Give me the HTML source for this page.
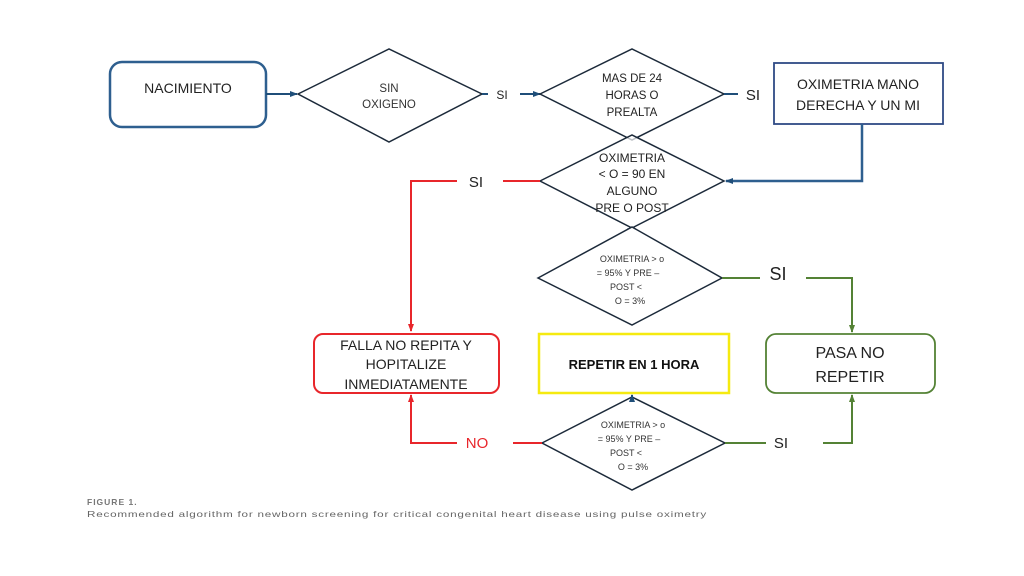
<!DOCTYPE html>
<html><head><meta charset="utf-8"><style>
html,body{margin:0;padding:0;background:#fff;}
svg{display:block;font-family:"Liberation Sans",sans-serif;}
</style></head><body>
<svg width="1024" height="576" viewBox="0 0 1024 576" xmlns="http://www.w3.org/2000/svg">
<defs>
<marker id="ab" markerWidth="8" markerHeight="8" refX="7" refY="4" orient="auto" markerUnits="userSpaceOnUse"><path d="M0,1 L8,4 L0,7 Z" fill="#1f4e79"/></marker>
<marker id="ar" markerWidth="8" markerHeight="8" refX="7" refY="4" orient="auto" markerUnits="userSpaceOnUse"><path d="M0,1 L8,4 L0,7 Z" fill="#e8262b"/></marker>
<marker id="ag" markerWidth="8" markerHeight="8" refX="7" refY="4" orient="auto" markerUnits="userSpaceOnUse"><path d="M0,1 L8,4 L0,7 Z" fill="#548235"/></marker>
</defs>
<rect width="1024" height="576" fill="#fff"/>

<!-- NACIMIENTO -->
<rect x="110" y="62" width="156" height="65" rx="12" fill="#fff" stroke="#2e5f8f" stroke-width="2.5"/>
<text x="188" y="93" font-size="14" text-anchor="middle" fill="#222">NACIMIENTO</text>
<line x1="266" y1="94" x2="297" y2="94" stroke="#1f4e79" stroke-width="2" marker-end="url(#ab)"/>

<!-- D1 -->
<polygon points="298,94 389,49 482,94 389,142" fill="#fff" stroke="#1c2a3a" stroke-width="1.5"/>
<text x="389" y="92" font-size="11.5" text-anchor="middle" fill="#333">SIN</text>
<text x="389" y="108" font-size="11.5" text-anchor="middle" fill="#333">OXIGENO</text>
<line x1="482" y1="94" x2="488" y2="94" stroke="#1f4e79" stroke-width="2"/>
<text x="502" y="99" font-size="12" text-anchor="middle" fill="#222">SI</text>
<line x1="520" y1="94" x2="540" y2="94" stroke="#1f4e79" stroke-width="2" marker-end="url(#ab)"/>

<!-- D2 -->
<polygon points="540,94 632,49 724,94 632,140" fill="#fff" stroke="#1c2a3a" stroke-width="1.5"/>
<text x="632" y="82" font-size="11.5" text-anchor="middle" fill="#222">MAS DE 24</text>
<text x="632" y="99" font-size="11.5" text-anchor="middle" fill="#222">HORAS O</text>
<text x="632" y="116" font-size="11.5" text-anchor="middle" fill="#222">PREALTA</text>
<line x1="724" y1="94" x2="738" y2="94" stroke="#1f4e79" stroke-width="2"/>
<text x="753" y="100" font-size="15" text-anchor="middle" fill="#222">SI</text>

<!-- Box oximetria mano -->
<rect x="774" y="63" width="169" height="61" fill="#fff" stroke="#2f4a85" stroke-width="1.8"/>
<text x="858" y="89" font-size="14" text-anchor="middle" fill="#222">OXIMETRIA MANO</text>
<text x="858" y="110" font-size="14" text-anchor="middle" fill="#222">DERECHA Y UN MI</text>
<polyline points="862,124 862,181 726,181" fill="none" stroke="#2e5f8f" stroke-width="2.5" marker-end="url(#ab)"/>

<!-- D3 -->
<polygon points="540,181 632,135 724,181 632,228" fill="#fff" fill-opacity="0.7" stroke="#1c2a3a" stroke-width="1.5"/>
<text x="632" y="162" font-size="12" text-anchor="middle" fill="#222">OXIMETRIA</text>
<text x="632" y="178" font-size="12" text-anchor="middle" fill="#222">&lt; O = 90 EN</text>
<text x="632" y="195" font-size="12" text-anchor="middle" fill="#222">ALGUNO</text>
<text x="632" y="212" font-size="12" text-anchor="middle" fill="#222">PRE O POST</text>
<text x="632" y="233" font-size="7" text-anchor="middle" fill="#8aa0c0">NO</text>

<!-- red SI -->
<line x1="503" y1="181" x2="540" y2="181" stroke="#e8262b" stroke-width="2"/>
<text x="476" y="187" font-size="15" text-anchor="middle" fill="#222">SI</text>
<polyline points="457,181 411,181 411,331" fill="none" stroke="#e8262b" stroke-width="2" marker-end="url(#ar)"/>

<!-- D4 -->
<polygon points="538,278 632,227 722,278 632,325" fill="#fff" stroke="#1c2a3a" stroke-width="1.5"/>
<text x="632" y="262" font-size="9" text-anchor="middle" fill="#333">OXIMETRIA &gt; o</text>
<text x="628" y="276" font-size="9" text-anchor="middle" fill="#333">= 95% Y PRE –</text>
<text x="626" y="290" font-size="9" text-anchor="middle" fill="#333">POST &lt;</text>
<text x="630" y="304" font-size="9" text-anchor="middle" fill="#333">O = 3%</text>
<line x1="722" y1="278" x2="760" y2="278" stroke="#548235" stroke-width="2"/>
<text x="778" y="280" font-size="18" text-anchor="middle" fill="#222">SI</text>
<polyline points="806,278 852,278 852,332" fill="none" stroke="#548235" stroke-width="2" marker-end="url(#ag)"/>

<!-- Red box -->
<rect x="314" y="334" width="185" height="59" rx="9" fill="#fff" stroke="#e8262b" stroke-width="2"/>
<text x="406" y="350" font-size="14" text-anchor="middle" fill="#222">FALLA NO REPITA Y</text>
<text x="406" y="369" font-size="14" text-anchor="middle" fill="#222">HOPITALIZE</text>
<text x="406" y="389" font-size="14" text-anchor="middle" fill="#222">INMEDIATAMENTE</text>

<!-- Yellow box -->
<rect x="539" y="334" width="190" height="59" fill="#fff" stroke="#f5ea10" stroke-width="2.5"/>
<text x="634" y="369" font-size="13" font-weight="bold" text-anchor="middle" fill="#111">REPETIR EN 1 HORA</text>

<!-- Green box -->
<rect x="766" y="334" width="169" height="59" rx="10" fill="#fff" stroke="#548235" stroke-width="1.8"/>
<text x="850" y="358" font-size="16" text-anchor="middle" fill="#222">PASA NO</text>
<text x="850" y="382" font-size="16" text-anchor="middle" fill="#222">REPETIR</text>

<!-- D5 -->
<polygon points="542,443 632,397 725,443 632,490" fill="#fff" stroke="#1c2a3a" stroke-width="1.5"/>
<line x1="632" y1="397" x2="632" y2="395" stroke="#1f4e79" stroke-width="2" marker-end="url(#ab)"/>
<text x="633" y="428" font-size="9" text-anchor="middle" fill="#333">OXIMETRIA &gt; o</text>
<text x="629" y="442" font-size="9" text-anchor="middle" fill="#333">= 95% Y PRE –</text>
<text x="626" y="456" font-size="9" text-anchor="middle" fill="#333">POST &lt;</text>
<text x="633" y="470" font-size="9" text-anchor="middle" fill="#333">O = 3%</text>

<line x1="513" y1="443" x2="542" y2="443" stroke="#e8262b" stroke-width="2"/>
<text x="477" y="448" font-size="15" text-anchor="middle" fill="#e8262b">NO</text>
<polyline points="457,443 411,443 411,395" fill="none" stroke="#e8262b" stroke-width="2" marker-end="url(#ar)"/>

<line x1="725" y1="443" x2="766" y2="443" stroke="#548235" stroke-width="2"/>
<text x="781" y="448" font-size="15" text-anchor="middle" fill="#222">SI</text>
<polyline points="823,443 852,443 852,395" fill="none" stroke="#548235" stroke-width="2" marker-end="url(#ag)"/>

<!-- caption -->
<text x="87" y="505" font-size="8.5" font-weight="bold" fill="#777" letter-spacing="1">FIGURE 1.</text>
<text x="87" y="517" font-size="8.5" fill="#666" letter-spacing="0.55" textLength="620" lengthAdjust="spacingAndGlyphs">Recommended algorithm for newborn screening for critical congenital heart disease using pulse oximetry</text>
</svg>
</body></html>
